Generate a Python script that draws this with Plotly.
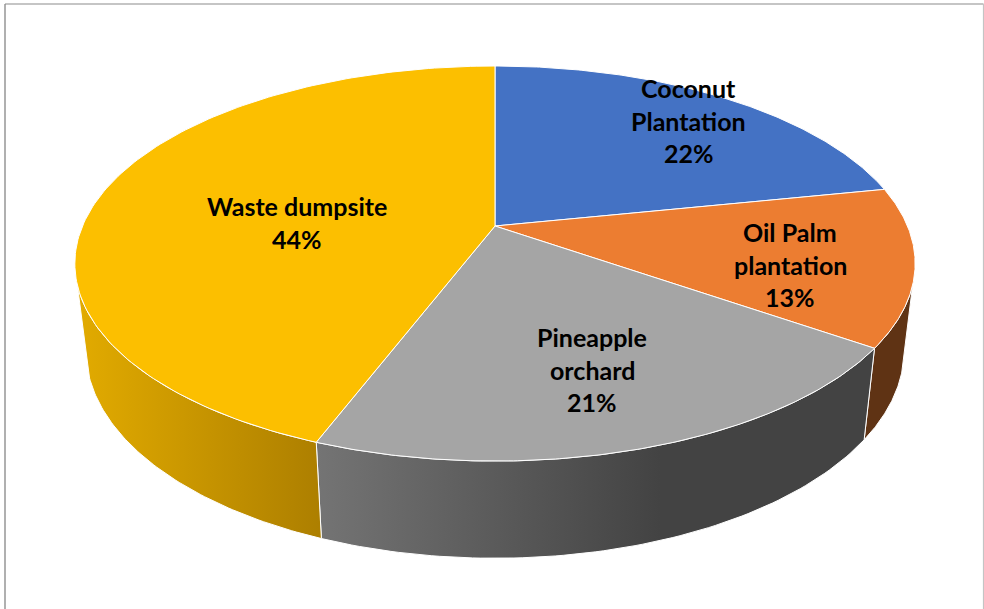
import numpy as np
import plotly.graph_objects as go

# --- data ---
categories = ["Coconut Plantation", "Oil Palm plantation", "Pineapple orchard", "Waste dumpsite"]
values = [21.8, 12.9, 21.1, 44.2]
label_lines = [["Coconut", "Plantation"], ["Oil Palm", "plantation"], ["Pineapple", "orchard"], ["Waste dumpsite"]]

# --- styles ---
top_colors = ["#4472C4", "#EC7D31", "#A5A5A5", "#FCBF00"]
label_x = [688.5, 790, 592, 297]
label_y = [88, 232, 337, 206]
LINE_STEP = 32.6
FONT = dict(family="Lato", size=25, color="#000000")

W, H = 984, 609
CX = 495.0
TOP = dict(a=412.5, b=190.4, k=0.19, yc=226.0)
BOT = dict(a=402.0, b=201.0, k=0.187, yc=311.0)


def project(theta_deg, plane):
    t = np.radians(theta_deg)
    X, Y = np.sin(t), np.cos(t)
    d = 1 + plane["k"] * Y
    return CX + plane["a"] * X / d, plane["yc"] - plane["b"] * Y / d


shares = np.array(values) / sum(values)
edges = np.concatenate([[0], np.cumsum(shares)]) * 360.0

fig = go.Figure()


def wall(t0, t1, fill):
    th = np.linspace(t0, t1, 80)
    xt, yt = project(th, TOP)
    xb, yb = project(th[::-1], BOT)
    fig.add_trace(go.Scatter(
        x=np.r_[xt, xb, xt[0]], y=np.r_[yt, yb, yt[0]], mode="lines",
        line=dict(color="#FFFFFF", width=1), hoverinfo="skip", **fill))


SIDE_R = 107.0   # visible limit of the wall on the right
SIDE_L = 253.0   # visible limit of the wall on the left

# side walls: oil palm, pineapple, waste dumpsite
wall(SIDE_R, edges[2], dict(fill="toself", fillcolor="#5F3314"))
wall(edges[2], edges[3], dict(fill="toself", fillgradient=dict(
    type="horizontal", start=317, stop=660,
    colorscale=[[0, "#747474"], [1, "#434343"]])))
wall(edges[3], SIDE_L, dict(fill="toself", fillgradient=dict(
    type="horizontal", start=77, stop=320,
    colorscale=[[0, "#E2AB00"], [1, "#AD7F00"]])))

# top faces
for i, c in enumerate(top_colors):
    th = np.linspace(edges[i], edges[i + 1], 160)
    xa, ya = project(th, TOP)
    xo, yo = CX, TOP["yc"]
    fig.add_trace(go.Scatter(
        x=np.r_[xo, xa, xo], y=np.r_[yo, ya, yo], mode="lines", fill="toself",
        fillcolor=c, line=dict(color="#FFFFFF", width=1), name=categories[i],
        hoverinfo="skip"))

# labels
annotations = []
for i, lines in enumerate(label_lines):
    rows = lines + [f"{round(shares[i] * 100):d}%"]
    for j, row in enumerate(rows):
        annotations.append(dict(
            x=label_x[i], y=label_y[i] + j * LINE_STEP, text=f"<b>{row}</b>",
            showarrow=False, xanchor="center", yanchor="middle", font=FONT))

frame = [
    dict(type="line", x0=5, x1=5, y0=4, y1=H, line=dict(color="#969696", width=1.5)),
    dict(type="line", x0=5, x1=983.5, y0=4, y1=4, line=dict(color="#8C8C8C", width=1.2)),
    dict(type="line", x0=983.5, x1=983.5, y0=4, y1=H, line=dict(color="#C4C4C4", width=1.2)),
]

fig.update_layout(
    width=W, height=H, margin=dict(l=0, r=0, t=0, b=0),
    paper_bgcolor="#FFFFFF", plot_bgcolor="#FFFFFF", showlegend=False,
    xaxis=dict(range=[0, W], visible=False, fixedrange=True),
    yaxis=dict(range=[H, 0], visible=False, fixedrange=True),
    annotations=annotations, shapes=frame,
)

fig.write_html("out.html", config=dict(displayModeBar=False),
               post_script="document.body.style.margin='0';document.body.style.overflow='hidden';")
